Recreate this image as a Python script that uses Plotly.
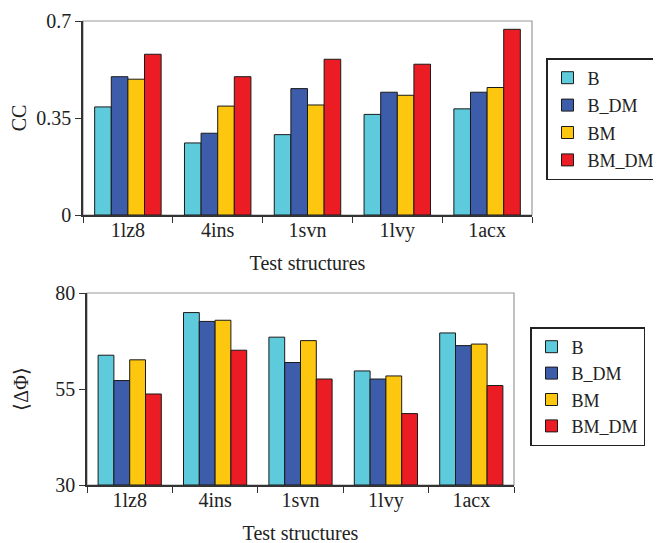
import plotly.graph_objects as go

categories = ["1lz8", "4ins", "1svn", "1lvy", "1acx"]
series_names = ["B", "B_DM", "BM", "BM_DM"]
colors = ["#5ECBDD", "#3D5DAA", "#FDC70F", "#EC1C24"]

cc_B = [0.39, 0.26, 0.29, 0.363, 0.383]
cc_B_DM = [0.499, 0.295, 0.456, 0.443, 0.443]
cc_BM = [0.49, 0.393, 0.397, 0.432, 0.46]
cc_BM_DM = [0.58, 0.499, 0.562, 0.544, 0.67]

dphi_B = [63.8, 74.9, 68.5, 59.7, 69.6]
dphi_B_DM = [57.2, 72.6, 61.9, 57.6, 66.3]
dphi_BM = [62.6, 72.9, 67.6, 58.4, 66.7]
dphi_BM_DM = [53.7, 65.1, 57.6, 48.6, 55.9]

cc_ticks = [0, 0.35, 0.7]
cc_ticktext = ["0", "0.35", "0.7"]
dphi_ticks = [30, 55, 80]

FONT = "Liberation Serif"
W, H, OFF = 661, 543, 8  # page body adds an 8px offset


def X(sx):
    return (sx - OFF) / W


def Y(sy):
    return 1 - (sy - OFF) / H


fig = go.Figure()

cc_vals = [cc_B, cc_B_DM, cc_BM, cc_BM_DM]
dphi_vals = [dphi_B, dphi_B_DM, dphi_BM, dphi_BM_DM]

for name, col, vals in zip(series_names, colors, cc_vals):
    fig.add_trace(go.Bar(x=categories, y=vals, name=name, legendgroup="a" + name,
                         marker=dict(color=col, line=dict(color="#1a1a1a", width=1)),
                         xaxis="x", yaxis="y", legend="legend"))
for name, col, vals in zip(series_names, colors, dphi_vals):
    base_vals = [30] * len(vals)
    fig.add_trace(go.Bar(x=categories, y=[v - 30 for v in vals], base=base_vals, name=name,
                         legendgroup="b" + name,
                         marker=dict(color=col, line=dict(color="#1a1a1a", width=1)),
                         xaxis="x2", yaxis="y2", legend="legend2"))

axis_font = dict(family=FONT, size=20, color="#222")

xd1 = [X(83), X(532)]
yd1 = [Y(215), Y(21)]
xd2 = [X(87), X(514)]
yd2 = [Y(485), Y(293)]

common_ax = dict(showline=True, linecolor="#333", linewidth=1.5, ticks="outside", ticklen=6,
                 tickcolor="#333", tickfont=axis_font, showgrid=False, automargin=False)

fig.update_layout(
    width=W, height=H,
    margin=dict(l=0, r=0, t=0, b=0, autoexpand=False),
    paper_bgcolor="white", plot_bgcolor="white",
    barmode="group", bargap=0.26, bargroupgap=0,
    font=dict(family=FONT, size=20, color="#222"),
    xaxis=dict(domain=xd1, anchor="y", tickson="boundaries", ticklabelstandoff=-4,
               title=dict(text="Test structures", font=axis_font, standoff=15), **common_ax),
    yaxis=dict(domain=yd1, anchor="x", range=[0, 0.7], tickvals=cc_ticks, ticktext=cc_ticktext,
               zeroline=False, title=dict(text="CC", font=axis_font, standoff=6), **common_ax),
    xaxis2=dict(domain=xd2, anchor="y2", tickson="boundaries", ticklabelstandoff=-4,
                title=dict(text="Test structures", font=axis_font, standoff=15), **common_ax),
    yaxis2=dict(domain=yd2, anchor="x2", range=[30, 80], tickvals=dphi_ticks,
                zeroline=False, title=dict(text="⟨ΔΦ⟩", font=axis_font, standoff=21), **common_ax),
    legend=dict(x=X(546), y=Y(58), xanchor="left", yanchor="top",
                bordercolor="#222", borderwidth=1.5, bgcolor="white",
                font=dict(family=FONT, size=18, color="#222"), tracegroupgap=1, itemwidth=30),
    legend2=dict(x=X(530), y=Y(327), xanchor="left", yanchor="top",
                 bordercolor="#222", borderwidth=1.5, bgcolor="white",
                 font=dict(family=FONT, size=18, color="#222"), tracegroupgap=0, itemwidth=30),
    shapes=[
        dict(type="rect", xref="paper", yref="paper", x0=xd1[0], x1=xd1[1], y0=yd1[0], y1=yd1[1],
             line=dict(color="#999", width=1.2), layer="below"),
        dict(type="rect", xref="paper", yref="paper", x0=xd2[0], x1=xd2[1], y0=yd2[0], y1=yd2[1],
             line=dict(color="#999", width=1.2), layer="below"),
    ],
)

fig.write_html("out.html")
